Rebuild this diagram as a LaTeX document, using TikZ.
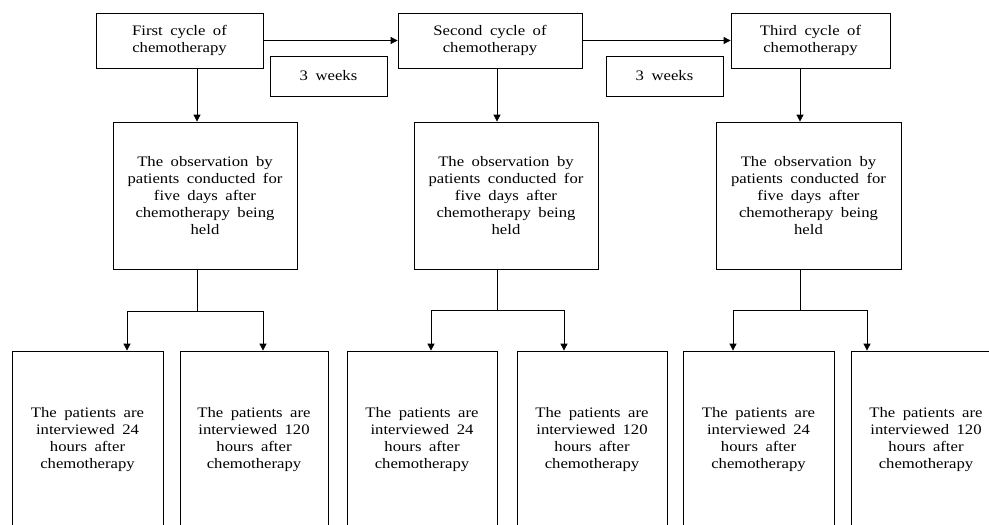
\documentclass[tikz,border=0pt]{standalone}
\usepackage{fontspec}
\setmainfont{Liberation Serif}[FakeStretch=1.15, WordSpace=1.8]
\usetikzlibrary{arrows.meta}
\begin{document}
\begin{tikzpicture}[x=1pt,y=-1pt,
  box/.style={draw, line width=0.8pt, inner sep=0pt, align=center,
    font=\fontsize{14.5}{17}\selectfont},
  arr/.style={-{Triangle[length=7pt,width=7pt]}, line width=0.8pt},
  ln/.style={line width=0.8pt}]
\useasboundingbox (0,0) rectangle (989,525);
\clip (0,0) rectangle (989,525);
% top row
\node[box, minimum width=167pt, minimum height=55pt] (t1) at (179.5,40.5) {First cycle of\\chemotherapy};
\node[box, minimum width=184pt, minimum height=55pt] (t2) at (490,40.5) {Second cycle of\\chemotherapy};
\node[box, minimum width=159pt, minimum height=55pt] (t3) at (810.5,40.5) {Third cycle of\\chemotherapy};
\node[box, minimum width=117pt, minimum height=40pt] (w1) at (328.5,76) {3 weeks};
\node[box, minimum width=117pt, minimum height=40pt] (w2) at (664.5,76) {3 weeks};
% middle row
\node[box, minimum width=184pt, minimum height=147pt] (m1) at (205,195.5) {The observation by\\patients conducted for\\five days after\\chemotherapy being\\held};
\node[box, minimum width=184pt, minimum height=147pt] (m2) at (506,195.5) {The observation by\\patients conducted for\\five days after\\chemotherapy being\\held};
\node[box, minimum width=185pt, minimum height=147pt] (m3) at (808.5,195.5) {The observation by\\patients conducted for\\five days after\\chemotherapy being\\held};
% bottom row
\node[box, minimum width=151pt, minimum height=178pt] (b11) at (87.5,440) {The patients are\\interviewed 24\\hours after\\chemotherapy};
\node[box, minimum width=148pt, minimum height=178pt] (b12) at (254,440) {The patients are\\interviewed 120\\hours after\\chemotherapy};
\node[box, minimum width=150pt, minimum height=178pt] (b21) at (422,440) {The patients are\\interviewed 24\\hours after\\chemotherapy};
\node[box, minimum width=150pt, minimum height=178pt] (b22) at (592,440) {The patients are\\interviewed 120\\hours after\\chemotherapy};
\node[box, minimum width=151pt, minimum height=178pt] (b31) at (758.5,440) {The patients are\\interviewed 24\\hours after\\chemotherapy};
\node[box, minimum width=150pt, minimum height=178pt] (b32) at (926,440) {The patients are\\interviewed 120\\hours after\\chemotherapy};
% column coordinates
\coordinate (c1) at (197,0);
\coordinate (c2) at (497,0);
\coordinate (c3) at (800,0);
\coordinate (j1) at (197,311);
\coordinate (j2) at (497,310);
\coordinate (j3) at (800,310);
\coordinate (a11) at (127,0);
\coordinate (a12) at (263,0);
\coordinate (a21) at (431,0);
\coordinate (a22) at (564,0);
\coordinate (a31) at (733,0);
\coordinate (a32) at (867,0);
% connectors
\draw[arr] (t1.east) -- (t2.west);
\draw[arr] (t2.east) -- (t3.west);
\draw[arr] (t1.south -| c1) -- (m1.north -| c1);
\draw[arr] (t2.south -| c2) -- (m2.north -| c2);
\draw[arr] (t3.south -| c3) -- (m3.north -| c3);
\draw[ln] (m1.south -| c1) -- (j1);
\draw[ln] (m2.south -| c2) -- (j2);
\draw[ln] (m3.south -| c3) -- (j3);
\draw[arr] (j1) -| (b11.north -| a11);
\draw[arr] (j1) -| (b12.north -| a12);
\draw[arr] (j2) -| (b21.north -| a21);
\draw[arr] (j2) -| (b22.north -| a22);
\draw[arr] (j3) -| (b31.north -| a31);
\draw[arr] (j3) -| (b32.north -| a32);
\end{tikzpicture}
\end{document}
